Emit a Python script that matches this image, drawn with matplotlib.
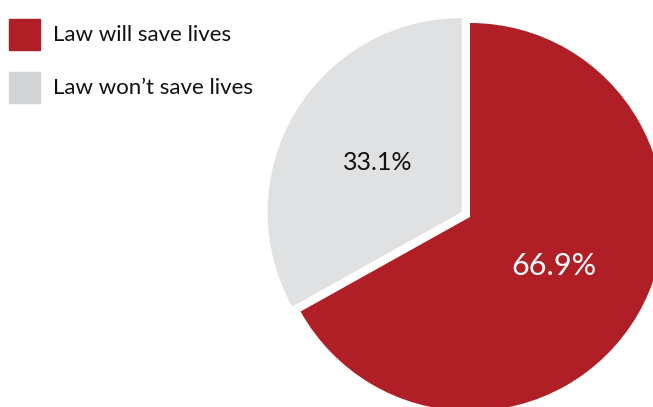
import matplotlib.pyplot as plt
from matplotlib.patches import Rectangle

plt.rcParams['font.family'] = ['Lato', 'DejaVu Sans']

labels = ["Law will save lives", "Law won\u2019t save lives"]
shares = [66.9, 33.1]
pie_colors = ["#B01F25", "#E0E1E3"]
key_colors = ["#B01F25", "#D3D4D6"]
explode = [0, 0.05]

fig = plt.figure(figsize=(6.53, 4.07), dpi=100)
ax = fig.add_axes([0, 0, 1, 1])

# 194 px per unit radius, pie centre at pixel (470, 217)
r_px = 194.0
ax.set_xlim(-470 / r_px, (653 - 470) / r_px)
ax.set_ylim(-(407 - 217) / r_px, 217 / r_px)

wedges, texts, autotexts = ax.pie(
    shares, colors=pie_colors, explode=explode, startangle=90,
    counterclock=False, autopct="%.1f%%", pctdistance=0.5,
    textprops={"fontsize": 18}, radius=1.0, frame=True)
ax.axis("off")
autotexts[0].set_color("white")
autotexts[0].set_fontsize(22)
autotexts[1].set_color("#111111")

# legend key drawn in figure pixels
W, H = 653, 407
for i, (lab, col) in enumerate(zip(labels, key_colors)):
    top = 19 + i * 53
    fig.patches.append(Rectangle((9 / W, 1 - (top + 31) / H), 31 / W, 31 / H,
                                 transform=fig.transFigure, color=col))
    fig.text(53 / W, 1 - (top + 16) / H, lab, fontsize=16, va="center",
             ha="left", color="#111111")

fig.savefig("out.png", dpi=100)
